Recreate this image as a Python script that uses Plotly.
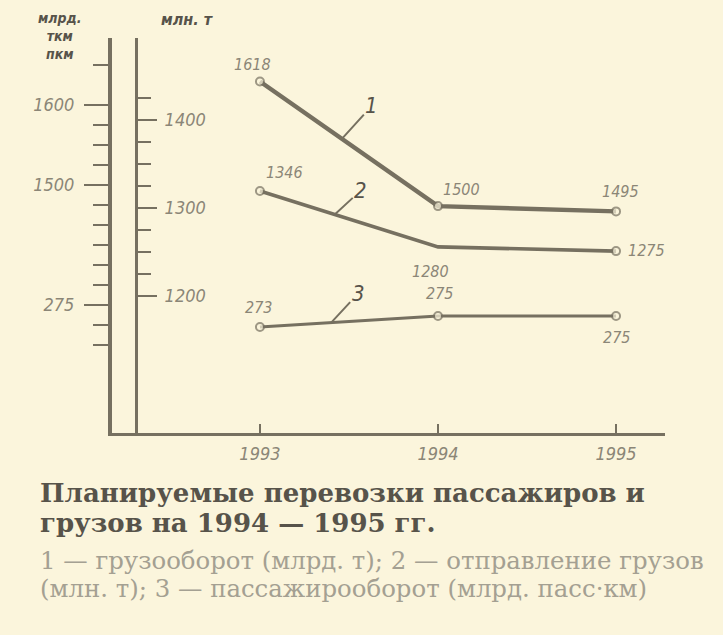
import plotly.graph_objects as go

# ---------------- data ----------------
years = [1993, 1994, 1995]
year_labels = ["1993", "1994", "1995"]
freight_turnover = [1618, 1500, 1495]      # 1 – грузооборот
freight_shipped = [1346, 1280, 1275]       # 2 – отправление грузов
passenger_turnover = [273, 275, 275]       # 3 – пассажирооборот

left_tick_values = [1600, 1500, 1350]
left_tick_labels = ["1600", "1500", "275"]
left_minor_values = [1650, 1575, 1550, 1525, 1475, 1450, 1425, 1400, 1375, 1325, 1300]
right_tick_values = [1400, 1300, 1200]
right_tick_labels = ["1400", "1300", "1200"]
right_minor_values = [1425, 1375, 1350, 1325, 1275, 1250, 1225]

# ---------------- style ----------------
W, H = 723, 635
ML, MR, MT, MB = 112, 58, 38, 202
BG = "#fbf5dc"
INK = "#767060"
LABEL = "#8b8677"
DARK = "#57534a"
CAP = "#a4a092"
NUM_FONT = "DejaVu Sans Condensed, DejaVu Sans"
SERIF = "DejaVu Serif, Liberation Serif, serif"

PW = W - ML - MR
PH = H - MT - MB


def px(x):
    return (x - ML) / PW


def py(y):
    return (MT + PH - y) / PH


fig = go.Figure()

# empty traces so that the two visible scales exist as subplots
fig.add_trace(go.Scatter(x=[None], y=[None], yaxis="y", showlegend=False, hoverinfo="skip"))
fig.add_trace(go.Scatter(x=[None], y=[None], yaxis="y2", showlegend=False, hoverinfo="skip"))

series = [
    (freight_turnover, "y3", 4.4, [8, 8, 8]),
    (freight_shipped, "y4", 3.6, [8, 0, 8]),
    (passenger_turnover, "y5", 3.2, [8, 8, 8]),
]
for vals, ax, lw, ms in series:
    fig.add_trace(go.Scatter(
        x=years, y=vals, yaxis=ax, mode="lines+markers",
        line=dict(color=INK, width=lw),
        marker=dict(symbol="circle", size=ms, color=BG, line=dict(color=INK, width=2)),
        showlegend=False, hoverinfo="skip", cliponaxis=False,
    ))

ann = []
offsets = {
    "y3": [(-7, -17), (23, -17), (4, -20)],
    "y4": [(25, -19), (-8, 25), (30, -1)],
    "y5": [(-1, -20), (1, -23), (0, 21)],
}
for vals, ax, _, _ in series:
    for i, (yr, v) in enumerate(zip(years, vals)):
        dx, dy = offsets[ax][i]
        ann.append(dict(x=yr, y=v, xref="x", yref=ax, text=str(v), showarrow=False,
                        xshift=dx, yshift=-dy,
                        font=dict(family=NUM_FONT, size=16, color=LABEL, style="italic")))

leaders = [("1", freight_turnover, "y3", 0.46, 30, -33),
           ("2", freight_shipped, "y4", 0.42, 26, -24),
           ("3", passenger_turnover, "y5", 0.40, 27, -29)]
for txt, vals, ax, t, dx, dy in leaders:
    xv = years[0] + t * (years[1] - years[0])
    yv = vals[0] + t * (vals[1] - vals[0])
    ann.append(dict(x=xv, y=yv, xref="x", yref=ax, text=txt, showarrow=True,
                    arrowhead=0, arrowwidth=2, arrowcolor=INK, ax=dx, ay=dy, standoff=0,
                    font=dict(family=NUM_FONT, size=22, color=DARK, style="italic")))

# axis units
ann.append(dict(x=px(60), y=py(36), xref="paper", yref="paper", text="млрд.<br>ткм<br>пкм",
                showarrow=False, xanchor="center", yanchor="middle", align="center",
                font=dict(family=NUM_FONT, size=14, color=DARK, style="italic", weight="bold")))
ann.append(dict(x=px(187), y=py(20), xref="paper", yref="paper", text="млн. т",
                showarrow=False, xanchor="center", yanchor="middle",
                font=dict(family=NUM_FONT, size=16, color=DARK, style="italic", weight="bold")))

title_lines = ["Планируемые перевозки пассажиров и", "грузов на 1994 — 1995 гг."]
cap_lines = ["1 — грузооборот (млрд. т); 2 — отправление грузов",
             "(млн. т); 3 — пассажирооборот (млрд. пасс·км)"]
for t, cy in zip(title_lines, [493, 523]):
    ann.append(dict(x=px(38), y=py(cy), xref="paper", yref="paper", text=t,
                    showarrow=False, xanchor="left", yanchor="middle",
                    font=dict(family=SERIF, size=26, color=DARK, weight="bold")))
for t, cy in zip(cap_lines, [560, 588]):
    ann.append(dict(x=px(38), y=py(cy), xref="paper", yref="paper", text=t,
                    showarrow=False, xanchor="left", yanchor="middle",
                    font=dict(family=SERIF, size=24.4, color=CAP)))


def rng(vals, ypix, slope):
    mv = sum(vals) / len(vals)
    my = sum(ypix) / len(ypix)
    top = mv + (my - MT) / slope
    bot = mv - (MT + PH - my) / slope
    return [bot, top]


hidden = dict(visible=False, overlaying="y", showgrid=False, zeroline=False)
tickfont = dict(family=NUM_FONT, size=18, color=LABEL, style="italic")

fig.update_layout(
    width=W, height=H, margin=dict(l=ML, r=MR, t=MT, b=MB),
    paper_bgcolor=BG, plot_bgcolor=BG, showlegend=False,
    xaxis=dict(range=[1992.169, 1995.275], tickvals=years, ticktext=year_labels,
               ticks="inside", ticklen=9, tickwidth=2, tickcolor=INK,
               showline=True, linewidth=3, linecolor=INK, showgrid=False, zeroline=False,
               ticklabelstandoff=2, tickfont=tickfont),
    yaxis=dict(range=[1190, 1683.75], tickvals=left_tick_values, ticktext=left_tick_labels,
               ticks="outside", ticklen=24, tickwidth=2, tickcolor=INK,
               minor=dict(tickmode="array", tickvals=left_minor_values, ticks="outside",
                          ticklen=15, tickwidth=2, tickcolor=INK, showgrid=False),
               showline=True, linewidth=4, linecolor=INK, showgrid=False, zeroline=False,
               ticklabelstandoff=6, tickfont=tickfont),
    yaxis2=dict(overlaying="y", anchor="free", position=px(136), side="right",
                range=[1044.3, 1493.2], tickvals=right_tick_values, ticktext=right_tick_labels,
                ticks="outside", ticklen=19, tickwidth=2, tickcolor=INK,
                minor=dict(tickmode="array", tickvals=right_minor_values, ticks="outside",
                           ticklen=13, tickwidth=2, tickcolor=INK, showgrid=False),
                showline=True, linewidth=3, linecolor=INK, showgrid=False, zeroline=False,
                ticklabelstandoff=4, tickfont=tickfont),
    yaxis3=dict(range=rng(freight_turnover, [82, 194, 223], 1.056), **hidden),
    yaxis4=dict(range=rng(freight_shipped, [192, 233, 264], 0.846), **hidden),
    yaxis5=dict(range=rng(passenger_turnover, [327, 315, 317], 5.5), **hidden),
    annotations=ann,
)

fig.write_html("out.html", config={"displayModeBar": False}, post_script=(
    "document.body.style.margin='0';"
    "document.body.style.background='" + BG + "';"
    "window.dispatchEvent(new Event('resize'));"
))
